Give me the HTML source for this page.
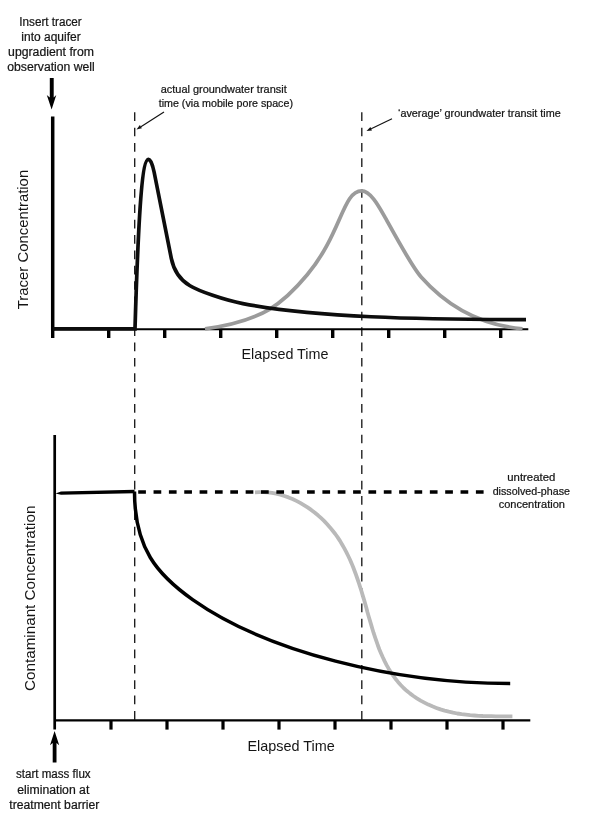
<!DOCTYPE html>
<html lang="en"><head><meta charset="utf-8"><title>Tracer and contaminant concentration vs elapsed time</title>
<style>html,body{margin:0;padding:0;background:#fff}body{width:600px;height:820px;overflow:hidden}svg{display:block;will-change:transform}</style>
</head><body>
<svg width="600" height="820" viewBox="0 0 600 820" font-family="'Liberation Sans', sans-serif" fill="#151515">
<rect width="600" height="820" fill="#fff"/>
<g stroke="#1a1a1a" stroke-width="1.35" stroke-dasharray="8.7 6.65" fill="none">
<line x1="134.7" y1="112.3" x2="134.7" y2="720"/>
<line x1="361.8" y1="112.3" x2="361.8" y2="720"/>
</g>
<g stroke="#000" fill="none">
<line x1="52.7" y1="116.6" x2="52.7" y2="330.4" stroke-width="3.5"/>
<line x1="51" y1="329.3" x2="528.3" y2="329.3" stroke-width="2.1"/>
<line x1="52.7" y1="329" x2="52.7" y2="338" stroke-width="3.4"/>
<line x1="108.7" y1="329" x2="108.7" y2="338" stroke-width="3.4"/>
<line x1="164.7" y1="329" x2="164.7" y2="338" stroke-width="3.4"/>
<line x1="220.7" y1="329" x2="220.7" y2="338" stroke-width="3.4"/>
<line x1="276.7" y1="329" x2="276.7" y2="338" stroke-width="3.4"/>
<line x1="332.7" y1="329" x2="332.7" y2="338" stroke-width="3.4"/>
<line x1="388.7" y1="329" x2="388.7" y2="338" stroke-width="3.4"/>
<line x1="444.7" y1="329" x2="444.7" y2="338" stroke-width="3.4"/>
<line x1="500.7" y1="329" x2="500.7" y2="338" stroke-width="3.4"/>
</g>
<path d="M205,328.8 C263.6,321.1 284.3,302.4 307.2,274.8 C341.6,233.5 342.7,190.9 361.7,190.9 C370.8,190.9 379.6,207.9 384.8,216.9 C389.8,225.7 411.4,266.1 421.1,277 C434.8,292.5 466.5,323.8 522.5,328.9" fill="none" stroke="#9b9b9b" stroke-width="3.8"/>
<path d="M52.7,328.9 L135,328.9 C138.8,200.5 142.7,159.3 148.6,159.3 C150.6,159.3 152.9,166.1 154.1,172 L171.3,258.3 C173.7,270.3 180.2,279.9 190,285.75 C198.9,291.1 223.9,299.9 242.9,303.6 C315.1,317.4 418,319.6 526,319.6" fill="none" stroke="#0d0d0d" stroke-width="3.7" stroke-linejoin="miter" stroke-miterlimit="3"/>
<g stroke="#000" fill="none">
<line x1="54.7" y1="435" x2="54.7" y2="729.6" stroke-width="2.7"/>
<line x1="54" y1="720.3" x2="530.3" y2="720.3" stroke-width="2.2"/>
<line x1="111.0" y1="720" x2="111.0" y2="729.6" stroke-width="3.2"/>
<line x1="167.0" y1="720" x2="167.0" y2="729.6" stroke-width="3.2"/>
<line x1="223.0" y1="720" x2="223.0" y2="729.6" stroke-width="3.2"/>
<line x1="279.0" y1="720" x2="279.0" y2="729.6" stroke-width="3.2"/>
<line x1="335.0" y1="720" x2="335.0" y2="729.6" stroke-width="3.2"/>
<line x1="391.0" y1="720" x2="391.0" y2="729.6" stroke-width="3.2"/>
<line x1="447.0" y1="720" x2="447.0" y2="729.6" stroke-width="3.2"/>
<line x1="503.0" y1="720" x2="503.0" y2="729.6" stroke-width="3.2"/>
</g>
<path d="M255.0,492.3 L259.3,492.1 L263.5,492.1 L267.8,492.4 L272.0,492.9 L276.2,493.7 L280.3,494.7 L284.4,496.0 L288.5,497.4 L292.5,499.0 L296.4,500.9 L300.2,502.9 L303.9,505.1 L307.6,507.4 L311.2,509.9 L314.6,512.5 L318.0,515.3 L321.2,518.2 L324.3,521.1 L327.2,524.2 L330.0,527.4 L332.7,530.7 L335.3,534.0 L337.7,537.4 L340.0,540.9 L342.1,544.5 L344.2,548.1 L346.2,551.8 L348.0,555.5 L349.8,559.3 L351.5,563.1 L353.1,567.0 L354.6,571.0 L356.1,575.0 L357.5,579.0 L358.9,583.1 L360.2,587.2 L361.5,591.3 L362.7,595.4 L364.0,599.6 L365.2,603.8 L366.4,608.0 L367.5,612.2 L368.7,616.4 L369.9,620.6 L371.2,624.9 L372.4,629.0 L373.7,633.2 L375.1,637.3 L376.5,641.4 L377.9,645.5 L379.4,649.5 L381.1,653.4 L382.8,657.3 L384.6,661.1 L386.5,664.8 L388.5,668.4 L390.7,672.0 L393.0,675.4 L395.4,678.7 L398.0,681.9 L400.7,685.0 L403.6,688.0 L406.7,690.8 L409.9,693.4 L413.4,696.0 L416.9,698.3 L420.6,700.6 L424.4,702.6 L428.3,704.6 L432.3,706.3 L436.4,707.9 L440.5,709.4 L444.6,710.6 L448.8,711.7 L453.1,712.7 L457.3,713.5 L461.6,714.2 L465.8,714.7 L470.1,715.2 L474.4,715.5 L478.7,715.8 L483.0,716.0 L487.2,716.1 L491.5,716.2 L495.7,716.3 L499.9,716.3 L504.1,716.3 L508.3,716.4 L512.4,716.4" fill="none" stroke="#b9b9b9" stroke-width="3.8" stroke-linejoin="round"/>
<line x1="138.2" y1="492" x2="484.5" y2="492" stroke="#000" stroke-width="3.3" stroke-dasharray="7.7 7.65"/>
<path d="M55.5,493.5 L61,491.4 L134.5,489.8 L134.5,493.2 L61,494.8 Z" fill="#000"/>
<path d="M134.5,491.5 C134.5,548.4 157.2,574.6 192.6,599.6 C266.7,651.9 393.7,683.5 510.2,683.5" fill="none" stroke="#000" stroke-width="3.5"/>
<path d="M49.8,78 H53.7 V97.4 L56.3,95 L51.6,109.6 L46.8,95 L49.8,97.4 Z" fill="#000"/>
<path d="M52.7,762.5 H56.5 V743 L59.2,745.2 L54.6,731 L50,745.2 L52.7,743 Z" fill="#000"/>
<g stroke="#111" stroke-width="1.15" fill="#111">
<line x1="164" y1="112" x2="140.9" y2="126.7"/>
<path d="M136.5,129.5 L139.9,125.1 L141.9,128.3 z" stroke="none"/>
<line x1="392" y1="118.8" x2="371.2" y2="128.76"/>
<path d="M366.5,131 L370.4,127.05 L372,130.5 z" stroke="none"/>
</g>
<text x="50.5" y="26" font-size="12" text-anchor="middle" textLength="62.5" lengthAdjust="spacingAndGlyphs" stroke="#151515" stroke-width="0.22">Insert tracer</text>
<text x="51" y="41" font-size="12" text-anchor="middle" textLength="59.3" lengthAdjust="spacingAndGlyphs" stroke="#151515" stroke-width="0.22">into aquifer</text>
<text x="51" y="56" font-size="12" text-anchor="middle" textLength="85.8" lengthAdjust="spacingAndGlyphs" stroke="#151515" stroke-width="0.22">upgradient from</text>
<text x="51" y="71" font-size="12" text-anchor="middle" textLength="87.5" lengthAdjust="spacingAndGlyphs" stroke="#151515" stroke-width="0.22">observation well</text>
<text x="160.7" y="93" font-size="10.6" text-anchor="start" textLength="126" lengthAdjust="spacingAndGlyphs" stroke="#151515" stroke-width="0.22">actual groundwater transit</text>
<text x="158.7" y="106.6" font-size="10.6" text-anchor="start" textLength="134.3" lengthAdjust="spacingAndGlyphs" stroke="#151515" stroke-width="0.22">time (via mobile pore space)</text>
<text x="398" y="117.2" font-size="10.6" text-anchor="start" textLength="162.8" lengthAdjust="spacingAndGlyphs" stroke="#151515" stroke-width="0.22">‘average’ groundwater transit time</text>
<text x="241.5" y="359.2" font-size="15" text-anchor="start" textLength="87" lengthAdjust="spacingAndGlyphs">Elapsed Time</text>
<text x="247.5" y="751.2" font-size="15" text-anchor="start" textLength="87.3" lengthAdjust="spacingAndGlyphs">Elapsed Time</text>
<text transform="translate(27.9,309.2) rotate(-90)" font-size="15.4" textLength="139.4" lengthAdjust="spacingAndGlyphs">Tracer Concentration</text>
<text transform="translate(35.4,691) rotate(-90)" font-size="15.4" textLength="185.4" lengthAdjust="spacingAndGlyphs">Contaminant Concentration</text>
<text x="531.3" y="480.7" font-size="10.8" text-anchor="middle" textLength="48" lengthAdjust="spacingAndGlyphs" stroke="#151515" stroke-width="0.22">untreated</text>
<text x="531.3" y="494.8" font-size="10.8" text-anchor="middle" textLength="77.3" lengthAdjust="spacingAndGlyphs" stroke="#151515" stroke-width="0.22">dissolved-phase</text>
<text x="531.8" y="507.5" font-size="10.8" text-anchor="middle" textLength="66.3" lengthAdjust="spacingAndGlyphs" stroke="#151515" stroke-width="0.22">concentration</text>
<text x="53.3" y="777.8" font-size="12" text-anchor="middle" textLength="74.7" lengthAdjust="spacingAndGlyphs" stroke="#151515" stroke-width="0.22">start mass flux</text>
<text x="53.3" y="793.6" font-size="12" text-anchor="middle" textLength="72" lengthAdjust="spacingAndGlyphs" stroke="#151515" stroke-width="0.22">elimination at</text>
<text x="54.3" y="808.9" font-size="12" text-anchor="middle" textLength="90" lengthAdjust="spacingAndGlyphs" stroke="#151515" stroke-width="0.22">treatment barrier</text>
</svg>
</body></html>
